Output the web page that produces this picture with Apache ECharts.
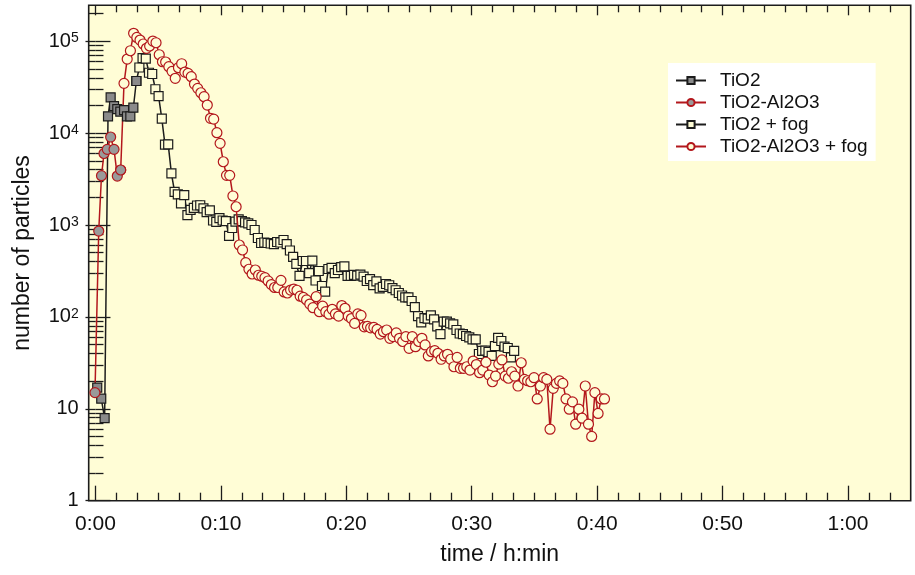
<!DOCTYPE html>
<html><head><meta charset="utf-8">
<script src="https://cdn.jsdelivr.net/npm/echarts@6/dist/echarts.min.js"></script>
<style>html,body{margin:0;padding:0;background:#fff}#c{width:915px;height:575px}</style>
</head><body><div id="c"></div>
<script>
// ---- data (time in minutes, number of particles) ----
const tio2Times  = [0.14,0.46,0.73,1.0,1.21,1.48,1.74,1.98,2.28,2.51,2.78,3.02,3.26];
const tio2Values = [17,12.9,7.9,15200,24500,19700,18200,17100,17800,15200,15200,18900,36900];

const alTimes  = [-0.04,0.26,0.48,0.68,0.94,1.21,1.48,1.74,2.01];
const alValues = [15,860,3440,6000,6660,9070,6660,3410,3970];

const samplingStep = 0.2554;          // minutes between samples
const tio2FogStart = 3.50;
const tio2FogValues = [51800,65600,64800,45400,44000,30000,25300,14400,7480,7550,
 3650,2290,2160,1720,2120,1280,1460,1540,1630,1640,
 1520,1380,1440,1120,1080,1190,1120,1100,760,928,
 1090,1150,1100,1070,1040,1000,883,722,637,645,
 637,629,621,653,645,687,621,528,449,377,
 279,406,406,300,409,249,316,217,188,332,
 341,300,324,349,355,279,279,286,282,289,
 275,246,258,222,243,204,212,228,221,206,
 195,182,171,163,163,149,128,102,87,97,
 96,104,94,79,65,89,89,85,83,72,
 66,65,62,60,57,57,39.5,42.6,42.9,41.5,
 37.6,48.2,59,54.7,47.6,45.9,36.2,42.6];

const alFogStart = 2.275;
const alFogValues = [34800,64000,78800,122000,110000,103000,93300,83700,88700,100500,
 96300,71300,59800,59400,52800,47000,39500,51500,56900,46200,
 44700,41100,34200,30700,27500,24900,20200,14500,14200,10100,
 7740,4880,3470,3470,2070,1580,606,535,389,330,
 293,324,284,277,267,246,225,209,209,250,
 187,182,196,201,195,168,163,153,138,126,
 166,114,131,114,107,121,108,102,133,124,
 102,96,85,108,104,78,79,76,77,73,
 65,69,72,58.5,61,67,58.5,54,61,45.5,
 61,47.4,54,58.5,49.5,37.6,41.8,42.9,40.2,34.6,
 37.6,39.2,34.6,28.7,36.3,27.6,27.6,28.7,26.4,33.1,
 30.3,24.7,26.4,32.1,23.3,19.7,22.7,30.7,34,22.7,
 21.5,25.3,22.7,17.7,31.7,20.9,20.2,19.7,21.8,12.8,
 17.7,21.8,20.9,6.0,16.7,18.9,20.1,18.9,12.8,9.9,
 11.9,6.8,9.9,7.9,17.7,6.8,5.0,15.0,8.9,12.8,
 12.8];

const seriesNames = ['TiO2','TiO2-Al2O3','TiO2 + fog','TiO2-Al2O3 + fog'];
const xMajorTicks = [0,10,20,30,40,50,60];
const yMajorTicks = [1,10,100,1000,10000,100000];

// ---- build ----
const pairs = (ts, vs) => vs.map((v,i)=>[ts[i], v]);
const seq = (start, vs) => vs.map((v,i)=>[+(start + i*samplingStep).toFixed(3), v]);
const tio2Data = pairs(tio2Times, tio2Values);
const alData = pairs(alTimes, alValues);
const tio2FogData = [tio2Data[tio2Data.length-1]].concat(seq(tio2FogStart, tio2FogValues));
const alFogData = [alData[alData.length-1]].concat(seq(alFogStart, alFogValues));

const xMinorTicks = [];
for (let i = 0; i < 66; i += 10) for (let k = 1; k < 6; k++) { const v = i + k*10/6; if (v < 65) xMinorTicks.push(v); }
const yMinorTicks = [];
for (let d = 1; d <= 100000; d *= 10) for (let k = 2; k <= 9; k++) { if (d*k < 246000) yMinorTicks.push(d*k); }

const FONT = 'Liberation Sans';
const BG = '#FFFDD6';
const BLACK = '#1c1c1c';
const RED = '#b3171c';
const XMIN = -0.54, XMAX = 65, YMIN = 1, YMAX = 246000;

function xAx(pos, ticks, len, labels) {
  return { type:'value', gridIndex:0, position:pos, min:XMIN, max:XMAX,
    axisLine:{show:false}, splitLine:{show:false},
    axisTick:{show:true, inside:true, length:len, customValues:ticks, lineStyle:{color:BLACK, width:1.3}},
    axisLabel: labels ? {show:true, customValues:ticks, margin:13, fontFamily:FONT, fontSize:21, color:'#111',
       formatter: v => Math.floor(v/60) + ':' + String(Math.round(v%60)).padStart(2,'0')} : {show:false},
    name: labels ? 'time / h:min' : '', nameLocation:'middle', nameGap:42,
    nameTextStyle:{fontFamily:FONT, fontSize:23, color:'#111'} };
}
function yAx(pos, ticks, len, labels) {
  return { type:'log', logBase:10, gridIndex:0, position:pos, min:YMIN, max:YMAX,
    axisLine:{show:false}, splitLine:{show:false},
    axisTick:{show:true, inside:true, length:len, customValues:ticks, lineStyle:{color:BLACK, width:1.3}},
    axisLabel: labels ? {show:true, customValues:ticks, margin:10, fontFamily:FONT, fontSize:20, color:'#111',
       formatter: v => { const e = Math.round(Math.log10(v)); return e===0 ? '1' : e===1 ? '10' : '10{sup|' + e + '}'; },
       rich:{ sup:{fontSize:14, fontFamily:FONT, color:'#111', verticalAlign:'top', lineHeight:14, padding:[0,0,10,0]} } } : {show:false},
    name: labels ? 'number of particles' : '', nameLocation:'middle', nameGap:55,
    nameTextStyle:{fontFamily:FONT, fontSize:23, color:'#111'} };
}

const chart = echarts.init(document.getElementById('c'), null, {renderer:'canvas'});
chart.setOption({
  animation:false,
  backgroundColor:'#fff',
  grid:{left:88.7, right:4.3, top:5.3, bottom:74.3, show:true, backgroundColor:BG,
        borderColor:BLACK, borderWidth:1.6, containLabel:false, outerBoundsMode:'none'},
  xAxis:[ xAx('bottom', xMajorTicks, 15, true), xAx('bottom', xMinorTicks, 8, false),
          xAx('top', xMajorTicks, 10, false), xAx('top', xMinorTicks, 7, false) ],
  yAxis:[ yAx('left', yMajorTicks, 15, true), yAx('left', yMinorTicks, 8, false),
          yAx('right', yMajorTicks, 10, false), yAx('right', yMinorTicks, 7, false) ],
  legend:{ orient:'vertical', left:668, top:63, backgroundColor:'#fff', borderWidth:0,
    padding:[8,8,5,7], itemWidth:30, itemHeight:9, itemGap:3,
    textStyle:{fontFamily:FONT, fontSize:19, color:'#111', padding:[0,0,0,9]},
    data: seriesNames },
  series:[
    { name:seriesNames[0], type:'line', data:tio2Data, z:6, symbol:'rect', symbolSize:9, showAllSymbol:true,
      lineStyle:{color:BLACK, width:1.5}, itemStyle:{color:'#8a8a8a', borderColor:BLACK, borderWidth:1.2} },
    { name:seriesNames[1], type:'line', data:alData, z:6, symbol:'circle', symbolSize:10, showAllSymbol:true,
      lineStyle:{color:RED, width:1.5}, itemStyle:{color:'#9a9a9a', borderColor:RED, borderWidth:1.2} },
    { name:seriesNames[2], type:'line', data:tio2FogData, z:3, symbol:'rect', symbolSize:9, showAllSymbol:true,
      lineStyle:{color:BLACK, width:1.5}, itemStyle:{color:BG, borderColor:BLACK, borderWidth:1.2} },
    { name:seriesNames[3], type:'line', data:alFogData, z:4, symbol:'circle', symbolSize:10, showAllSymbol:true,
      lineStyle:{color:RED, width:1.5}, itemStyle:{color:BG, borderColor:RED, borderWidth:1.2} }
  ]
});
</script></body></html>
